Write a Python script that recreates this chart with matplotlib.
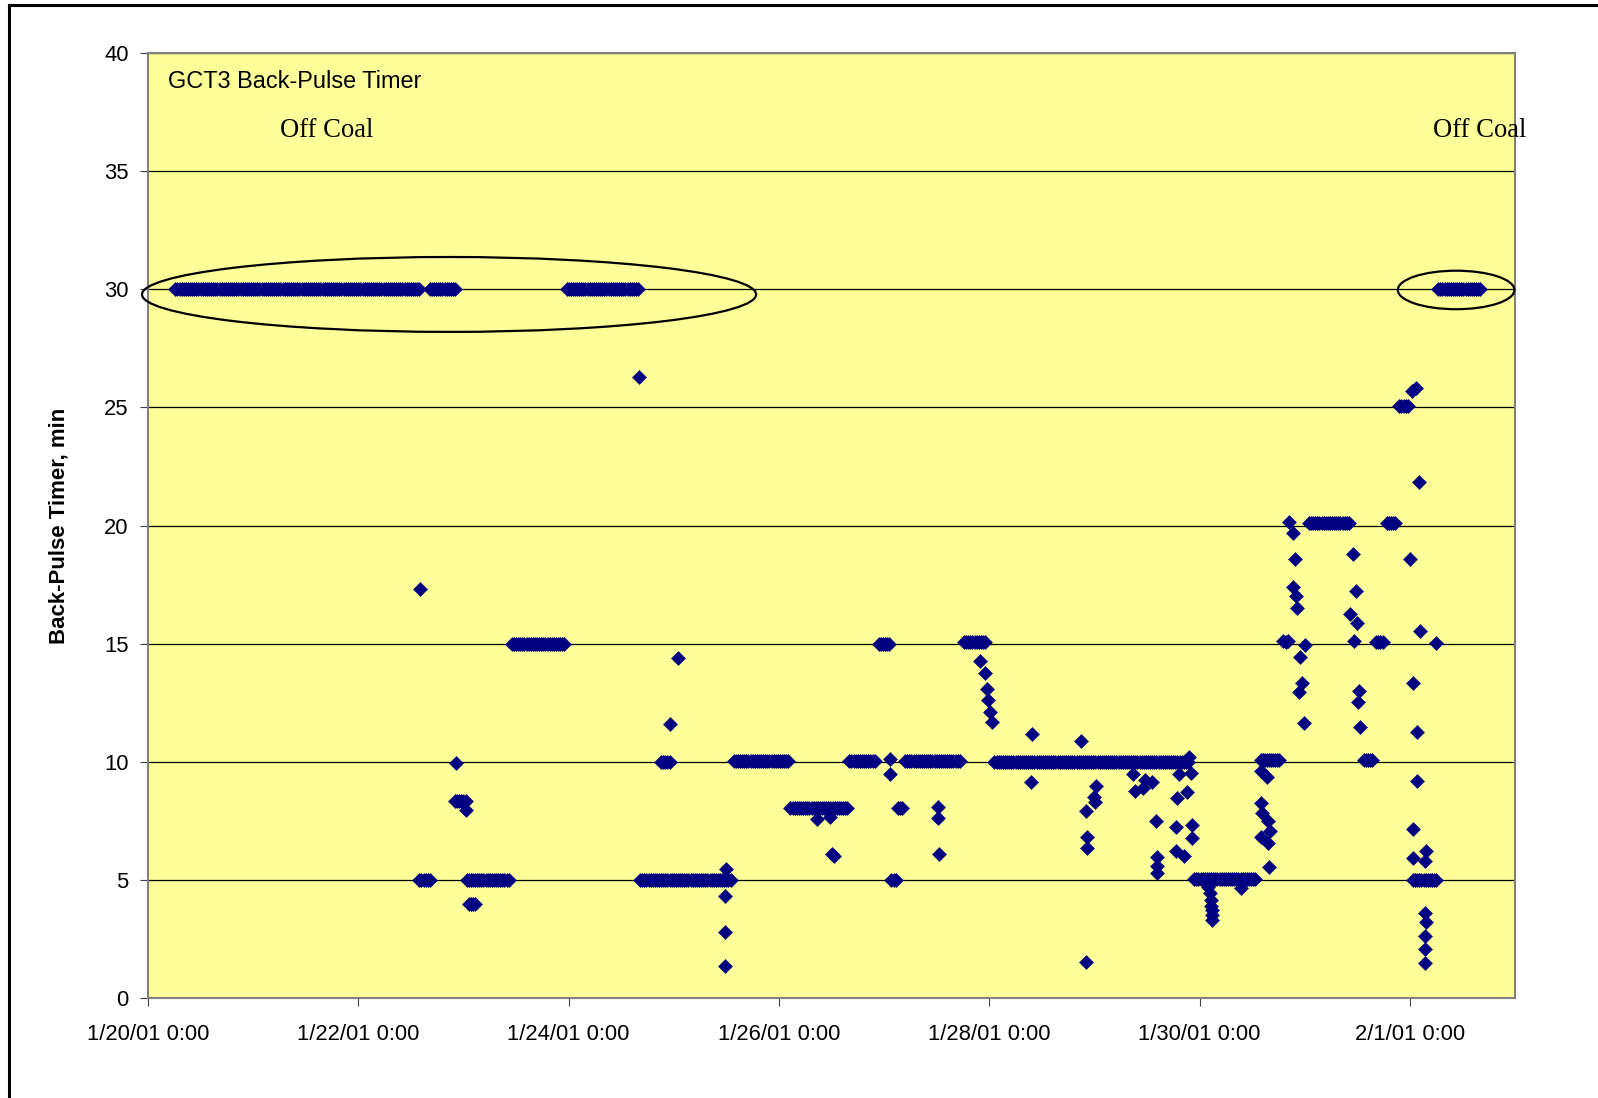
import numpy as np
import matplotlib
matplotlib.use("Agg")
import matplotlib.pyplot as plt
from matplotlib.patches import Ellipse
from matplotlib.lines import Line2D

plt.rcParams['font.family'] = ['Liberation Sans', 'DejaVu Sans']

# Back-pulse timer log, x in days since 1/20/01 0:00
# steady periods: (start day, end day, timer setting in min), logged every ~30 min
run_start = [0.26, 2.68, 3.98, 12.27,
             2.58, 3.03, 4.68, 7.07, 9.95, 12.05,
             3.05, 2.92,
             3.46, 6.95, 7.76, 11.68,
             4.88, 5.57, 6.67, 7.20, 8.05, 10.58, 11.56,
             6.11, 7.13,
             11.04, 11.78, 11.90]
run_end = [2.58, 2.93, 4.66, 12.67,
           2.69, 3.44, 5.54, 7.12, 10.54, 12.26,
           3.12, 3.02,
           3.97, 7.06, 7.96, 11.75,
           4.97, 6.09, 6.92, 7.72, 9.89, 10.77, 11.65,
           6.66, 7.18,
           11.43, 11.86, 11.98]
run_value = [30.0, 30.0, 30.0, 30.0,
             5.0, 5.0, 5.0, 5.0, 5.05, 5.0,
             4.0, 8.35,
             15.0, 15.0, 15.05, 15.08,
             10.0, 10.05, 10.05, 10.05, 10.0, 10.07, 10.07,
             8.05, 8.05,
             20.1, 20.1, 25.05]
log_step = 0.02

# transitional readings between settings
point_day = [2.59, 2.93, 3.02, 4.67, 4.96, 5.04,
             5.50, 5.49, 5.49, 5.49,
             6.36, 6.49, 6.52, 6.50,
             7.06, 7.06, 7.51, 7.51, 7.52,
             7.91, 7.96, 7.98, 7.99, 8.01, 8.03,
             8.41, 8.40,
             8.87, 9.02, 9.00, 9.01, 8.92, 8.93, 8.93, 8.92,
             9.37, 9.39, 9.48, 9.55, 9.46, 9.59, 9.60, 9.60, 9.60,
             9.80, 9.92, 9.88, 9.79, 9.78, 9.93, 9.93, 9.78, 9.85, 9.90,
             10.08, 10.10, 10.11, 10.11, 10.12, 10.12, 10.12, 10.39,
             10.64, 10.58, 10.58, 10.59, 10.65, 10.67, 10.58, 10.65, 10.66,
             10.79, 10.82, 10.84,
             10.85, 10.89, 10.91, 10.89, 10.92, 10.93,
             11.00, 10.96, 10.97, 10.95, 10.99,
             11.46, 11.49, 11.43, 11.50, 11.47, 11.52, 11.51, 11.53,
             12.00, 12.10, 12.25, 12.03, 12.07, 12.07, 12.03, 12.03, 12.15, 12.14, 12.03,
             12.14, 12.15, 12.14, 12.14, 12.14,
             12.09, 12.02, 12.06]
point_value = [17.3, 9.93, 7.96, 26.3, 11.6, 14.4,
               5.45, 4.3, 2.8, 1.35,
               7.58, 7.67, 6.03, 6.1,
               10.1, 9.47, 8.1, 7.6, 6.08,
               14.26, 13.77, 13.1, 12.6, 12.1, 11.7,
               11.17, 9.16,
               10.89, 8.99, 8.52, 8.3, 7.93, 6.83, 6.33, 1.51,
               9.48, 8.76, 9.23, 9.16, 8.9, 7.5, 5.98, 5.6, 5.28,
               9.48, 9.51, 8.71, 8.48, 7.25, 7.32, 6.76, 6.24, 6.01, 10.2,
               4.7, 4.43, 4.15, 3.9, 3.72, 3.5, 3.3, 4.64,
               9.37, 9.6, 8.27, 7.82, 7.5, 7.08, 6.83, 6.55, 5.56,
               15.1, 15.05, 15.1,
               20.16, 19.67, 18.58, 17.41, 17.0, 16.52,
               14.94, 14.45, 13.35, 12.97, 11.65,
               18.79, 17.24, 16.24, 15.86, 15.12, 12.99, 12.54, 11.48,
               18.57, 15.55, 15.01, 13.35, 11.25, 9.18, 7.15, 5.94, 6.24, 5.8, 5.0,
               3.58, 3.2, 2.62, 2.06, 1.47,
               21.85, 25.7, 25.8]

x_ticks = [0, 2, 4, 6, 8, 10, 12]
x_labels = ['1/20/01 0:00', '1/22/01 0:00', '1/24/01 0:00', '1/26/01 0:00',
            '1/28/01 0:00', '1/30/01 0:00', '2/1/01 0:00']
y_ticks = [0, 5, 10, 15, 20, 25, 30, 35, 40]

# expand steady periods into logged readings
xs, ys = [], []
for a, b, v in zip(run_start, run_end, run_value):
    t = np.arange(a, b + 1e-9, log_step)
    xs.append(t)
    ys.append(np.full(len(t), v))
xs.append(np.array(point_day))
ys.append(np.array(point_value))
days = np.concatenate(xs)
timer = np.concatenate(ys)

W, H = 1598, 1098
fig = plt.figure(figsize=(W / 100, H / 100), dpi=100)
ax = fig.add_axes([148 / W, 1 - 998 / H, (1515 - 148) / W, (998 - 53) / H])
ax.set_facecolor('#FFFF99')

ax.plot(days, timer, linestyle='none', marker='D', ms=7.4, mfc='#000080',
        mec='#000080', mew=0.4, zorder=3)

ax.set_xlim(0, 13)
ax.set_ylim(0, 40)
ax.set_xticks(x_ticks)
ax.set_xticklabels(x_labels)
ax.set_yticks(y_ticks)
ax.yaxis.grid(True, color='black', linewidth=0.9)
ax.set_axisbelow(True)
for s in ax.spines.values():
    s.set_color('#808080')
    s.set_linewidth(1.5)
ax.tick_params(axis='x', direction='out', length=6, color='#404040', labelsize=15.8, pad=12.5)
ax.tick_params(axis='y', direction='out', length=6, color='#404040', labelsize=15.8, pad=8)

ax.set_ylabel('Back-Pulse Timer, min', fontsize=16, fontweight='bold')
ax.yaxis.set_label_coords(-0.0576, 0.5)

ax.text(0.194, 38.78, 'GCT3 Back-Pulse Timer', fontsize=16.9, ha='left', va='center')
ax.text(1.70, 36.72, 'Off Coal', fontsize=19.2, family='Liberation Serif',
        ha='center', va='center')
ax.text(12.66, 36.72, 'Off Coal', fontsize=19.2, family='Liberation Serif',
        ha='center', va='center', clip_on=False)

# off-coal periods circled
ax.add_patch(Ellipse((2.863, 29.78), 5.84, 3.17, fill=False, edgecolor='black',
                     linewidth=1.6, clip_on=False, zorder=4))
ax.add_patch(Ellipse((12.44, 29.97), 1.109, 1.63, fill=False, edgecolor='black',
                     linewidth=1.6, clip_on=False, zorder=4))

# page frame
fig.add_artist(Line2D([9 / W, 9 / W], [0, 1 - 5 / H], color='black', linewidth=2.2))
fig.add_artist(Line2D([9 / W, 1], [1 - 5 / H, 1 - 5 / H], color='black', linewidth=2.2))

fig.savefig('out.png', dpi=100)
